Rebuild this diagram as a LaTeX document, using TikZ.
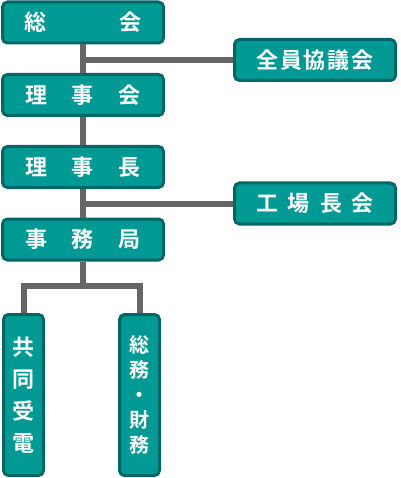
\documentclass[tikz,border=0pt]{standalone}
\usepackage{fontspec}
\newfontfamily\jpfont{Noto Sans CJK JP Bold}
\definecolor{boxfill}{RGB}{0,153,148}
\definecolor{boxline}{RGB}{0,102,102}
\definecolor{connline}{RGB}{102,102,102}
\tikzset{
  orgbox/.style={draw=boxline, line width=3pt, fill=boxfill, rounded corners=5pt, inner sep=0pt,
    minimum width=161pt, minimum height=41pt, text=white, font=\jpfont\fontsize{22}{22}\selectfont},
  tallbox/.style={orgbox, minimum width=40pt, minimum height=161pt, align=center},
  conn/.style={draw=connline, line width=6pt}
}
\begin{document}
\begin{tikzpicture}[x=1pt, y=-1pt]
            \useasboundingbox (0,0) rectangle (400,478);
            \node[orgbox] (soukai) at (83,22.5) {総\hspace{73pt}会};
            \node[orgbox] (rijikai) at (83,95) {理\hspace{25pt}事\hspace{25pt}会};
            \node[orgbox] (rijicho) at (83,167) {理\hspace{25pt}事\hspace{25pt}長};
            \node[orgbox] (jimukyoku) at (83,239.5) {事\hspace{25pt}務\hspace{25pt}局};
            \node[orgbox] (zenin) at (315,60) {全\kern1.6pt 員\kern1.6pt 協\kern1.6pt 議\kern1.6pt 会};
            \node[orgbox] (kojo) at (315,203.5) {工\hspace{10pt}場\hspace{10pt}長\hspace{10pt}会};
            \node[tallbox, font=\jpfont\fontsize{22}{32}\selectfont] (kyodo) at (23.5,395) {共\\同\\受\\電};
            \node[tallbox, font=\jpfont\fontsize{20}{25}\selectfont] (somu) at (139.5,395) {総\\務\\・\\財\\務};
            \coordinate (split) at (83,286);
            \draw[conn] (soukai) -- (rijikai);
            \draw[conn] (rijikai) -- (rijicho);
            \draw[conn] (rijicho) -- (jimukyoku);
            \draw[conn] (zenin.west -| soukai.south) -- (zenin.west);
            \draw[conn] (kojo.west -| rijicho.south) -- (kojo.west);
            \draw[conn] (jimukyoku) -- (split);
            \draw[conn] (kyodo.north) |- (split) -| (somu.north);
\end{tikzpicture}
\end{document}
